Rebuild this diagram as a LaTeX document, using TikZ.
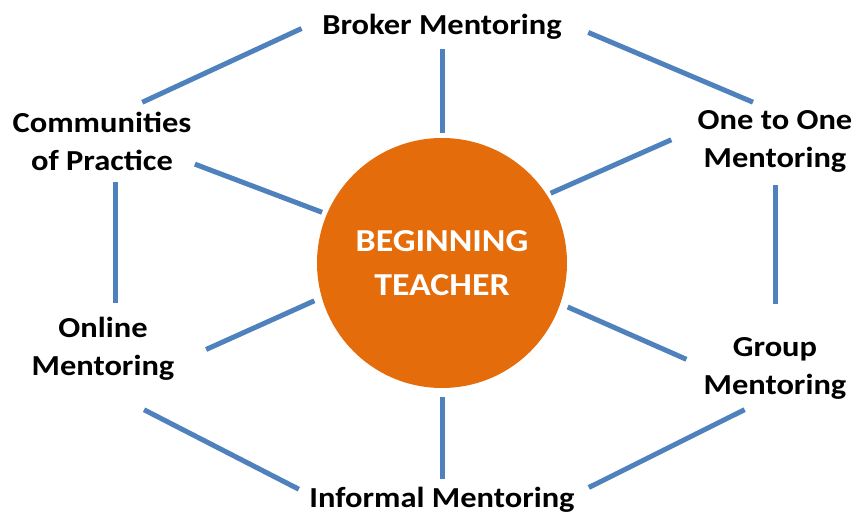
\documentclass[tikz,border=0pt]{standalone}
\usepackage{fontspec}
\setmainfont{Carlito}[FakeStretch=1.12]
\usepackage{tikz}
\usetikzlibrary{
	calc,
	positioning,
}
\definecolor{linkblue}{RGB}{79,129,189}
\definecolor{hubfill}{RGB}{228,108,10}
\tikzset{
	hub/.style={circle, fill=hubfill, minimum size=250pt, inner sep=0pt, text=white, align=center, font=\bfseries\fontsize{32}{44}\selectfont},
	lbl/.style={align=center, font=\bfseries\fontsize{29}{38}\selectfont},
	link/.style={draw=linkblue, line width=5pt},
}
\begin{document}
\begin{tikzpicture}[x=1pt,y=-1pt]
				\useasboundingbox (0,0) rectangle (857,516);
				\node[hub] (T) at (442,263) {BEGINNING\\TEACHER};
				\node[lbl] (B) at (442,27) {Broker Mentoring};
				\node[lbl] (C) at (102,141) {Communities\\of Practice};
				\node[lbl] (O) at (775,141) {One to One\\Mentoring};
				\node[lbl] (L) at (103,349) {Online\\Mentoring};
				\node[lbl] (G) at (775,368) {Group\\Mentoring};
				\node[lbl] (I) at (442,500) {Informal Mentoring};
				\draw[link, shorten <=19pt, shorten >=14pt] (B.177) -- (C.50);
				\draw[link, shorten <=6pt, shorten >=5pt] (B.south) -- (T.north);
				\draw[link, shorten <=25pt, shorten >=11pt] (B.2) -- (O.109);
				\draw[link, shorten >=5pt] (C.-14) -- (T.157);
				\draw[link, shorten <=25pt, shorten >=4pt] (O.172) -- (T.33);
				\draw[link, shorten <=8pt, shorten >=11pt] (C.-68) -- (C.-68 |- L.north);
				\draw[link, shorten <=10pt, shorten >=30pt] (O.south) -- (G.north);
				\draw[link, shorten <=31pt, shorten >=8pt] (L.-10) -- (T.196);
				\draw[link, shorten <=15pt, shorten >=8pt] (G.178) -- (T.-19);
				\draw[link, shorten <=56pt, shorten >=8pt] (L.-104) -- (I.177);
				\draw[link, shorten <=16pt, shorten >=12pt] (G.-115) -- (I.3);
				\draw[link, shorten <=9pt, shorten >=5pt] (T.south) -- (I.north);
			\end{tikzpicture}
\end{document}
